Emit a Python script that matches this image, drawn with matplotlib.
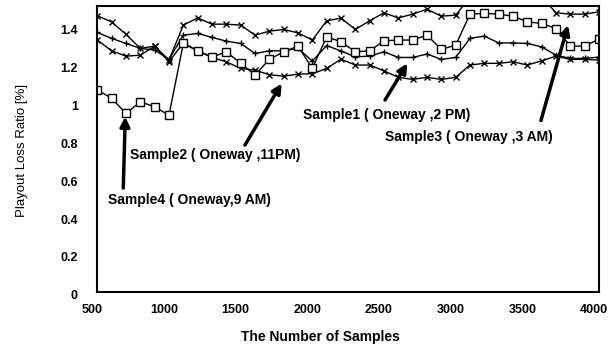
import matplotlib
matplotlib.use('Agg')
import matplotlib.pyplot as plt
import matplotlib.transforms as mtransforms

plt.rcParams['font.family'] = ['Liberation Sans', 'DejaVu Sans']

# Number of samples (x axis)
samples = [500, 600, 700, 800, 900, 1000, 1100, 1200, 1300, 1400, 1500, 1600,
           1700, 1800, 1900, 2000, 2100, 2200, 2300, 2400, 2500, 2600, 2700, 2800,
           2900, 3000, 3100, 3200, 3300, 3400, 3500, 3600, 3700, 3800, 3900, 4000]

# Playout loss ratio [%]
sample3 = [1.458, 1.426, 1.360, 1.286, 1.298, 1.224, 1.409, 1.447, 1.414, 1.414,
           1.409, 1.356, 1.377, 1.386, 1.368, 1.330, 1.432, 1.446, 1.386, 1.432,
           1.474, 1.447, 1.467, 1.493, 1.456, 1.462, 1.555, 1.580, 1.570, 1.600,
           1.580, 1.560, 1.474, 1.467, 1.467, 1.479]
sample4 = [1.066, 1.022, 0.942, 1.004, 0.977, 0.933, 1.312, 1.273, 1.240, 1.268,
           1.207, 1.145, 1.228, 1.268, 1.298, 1.180, 1.347, 1.321, 1.268, 1.273,
           1.326, 1.330, 1.330, 1.356, 1.281, 1.303, 1.467, 1.471, 1.467, 1.456,
           1.426, 1.418, 1.391, 1.298, 1.298, 1.335]
sample1 = [1.370, 1.339, 1.312, 1.286, 1.277, 1.228, 1.356, 1.365, 1.344, 1.324,
           1.312, 1.259, 1.273, 1.273, 1.286, 1.219, 1.301, 1.272, 1.241, 1.245,
           1.268, 1.238, 1.238, 1.256, 1.228, 1.238, 1.339, 1.351, 1.315, 1.315,
           1.312, 1.294, 1.250, 1.233, 1.233, 1.240]
sample2 = [1.330, 1.273, 1.245, 1.250, 1.298, 1.215, 1.315, 1.273, 1.238, 1.215,
           1.180, 1.171, 1.147, 1.139, 1.150, 1.152, 1.180, 1.229, 1.198, 1.198,
           1.167, 1.133, 1.122, 1.133, 1.122, 1.133, 1.198, 1.207, 1.207, 1.215,
           1.198, 1.220, 1.245, 1.228, 1.228, 1.224]

xticks = [500, 1000, 1500, 2000, 2500, 3000, 3500, 4000]
yticks = [0, 0.2, 0.4, 0.6, 0.8, 1.0, 1.2, 1.4]
ytick_labels = ['0', '0.2', '0.4', '0.6', '0.8', '1', '1.2', '1.4']

# annotations: text, text position, arrow base, arrow tip
notes = [
    ('Sample1 ( Oneway ,2 PM)', (1935, 0.933), (2507, 1.013), (2663, 1.207)),
    ('Sample2 ( Oneway ,11PM)', (728, 0.722), (1530, 0.775), (1786, 1.101)),
    ('Sample3 ( Oneway ,3 AM)', (2507, 0.817), (3595, 0.905), (3784, 1.409)),
    ('Sample4 ( Oneway,9 AM)', (575, 0.485), (681, 0.548), (695, 0.925)),
]

fig = plt.figure(figsize=(6.16, 3.47), dpi=100)
ax = fig.add_axes([0.158, 0.1594, 0.8144, 0.8233])

ax.plot(samples, sample3, color='black', lw=1.0, marker='x', ms=5, mew=1.0)
ax.plot(samples, sample1, color='black', lw=1.0, marker='+', ms=5, mew=1.0)
ax.plot(samples, sample2, color='black', lw=1.0, marker='x', ms=5, mew=1.0)
ax.plot(samples, sample4, color='black', lw=1.0, marker='s', ms=5.5, mew=1.0,
        mfc='white')

for txt, tpos, base, tip in notes:
    ax.text(tpos[0], tpos[1], txt, fontsize=10, fontweight='bold',
            ha='left', va='center')
    ax.annotate('', xy=tip, xytext=base,
                arrowprops=dict(arrowstyle='-|>', lw=2.5, color='black',
                                mutation_scale=14, shrinkA=0, shrinkB=0))

ax.set_xlim(500, 4000)
ax.set_ylim(0, 1.51)
ax.set_xticks(xticks)
ax.set_xticklabels([str(t) for t in xticks])
ax.set_yticks(yticks)
ax.set_yticklabels(ytick_labels)
ax.tick_params(length=0, labelsize=9)
ax.tick_params(axis='x', pad=9)
ax.tick_params(axis='y', pad=14)
for lab in ax.get_xticklabels() + ax.get_yticklabels():
    lab.set_fontweight('bold')
for lab in ax.get_xticklabels():
    lab.set_transform(lab.get_transform() +
                      mtransforms.ScaledTranslation(-5 / 100, 0, fig.dpi_scale_trans))
for lab in ax.get_yticklabels():
    lab.set_transform(lab.get_transform() +
                      mtransforms.ScaledTranslation(0, -3 / 100, fig.dpi_scale_trans))

for s in ax.spines.values():
    s.set_linewidth(1.5)
    s.set_color('black')

fig.text(320 / 616, 1 - 337 / 347, 'The Number of Samples', fontsize=10,
         fontweight='bold', ha='center', va='center')
fig.text(22 / 616, 1 - 150 / 347, 'Playout Loss Ratio [%]', fontsize=9.5,
         rotation=90, ha='center', va='center')

fig.savefig('out.png', dpi=100)
